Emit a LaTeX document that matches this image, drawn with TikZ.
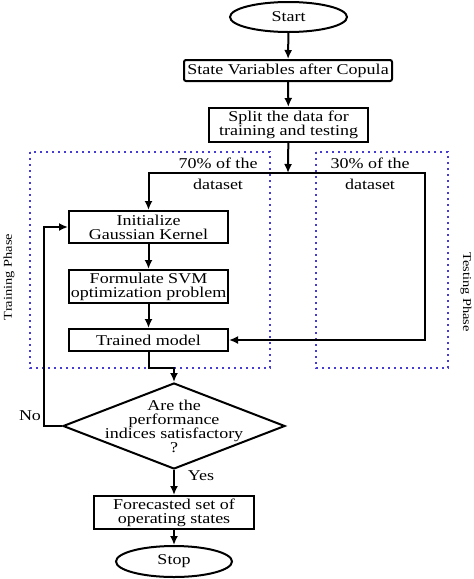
\documentclass[tikz,border=0pt]{standalone}
\usepackage{fontspec}
\setmainfont{Liberation Serif}[FakeStretch=1.2]
\usetikzlibrary{shapes.geometric, arrows.meta}

\definecolor{phaseblue}{RGB}{70,60,210}

\tikzset{
    box/.style={draw, line width=2pt, rectangle, inner sep=1pt, align=center, font=\fontsize{15}{14}\selectfont},
    oval/.style={draw, line width=2pt, ellipse, inner sep=0pt, font=\fontsize{15}{14}\selectfont},
    phase/.style={draw=phaseblue, line width=2pt, dash pattern=on 2pt off 4pt},
    txt/.style={font=\fontsize{15}{14}\selectfont},
    flow/.style={line width=2pt, -{Latex[length=9pt, width=8pt]}}
}

\begin{document}
\begin{tikzpicture}[x=1pt, y=-1pt]
    \useasboundingbox (0,0) rectangle (474,579);

    % Phases
    \draw[phase] (30,152) rectangle (270,368);
    \draw[phase] (316,152) rectangle (448,368);
    \node[rotate=90, font=\fontsize{12}{12}\selectfont] (trainlbl) at (9,277) {Training Phase};
    \node[rotate=-90, font=\fontsize{12}{12}\selectfont] (testlbl) at (466,292) {Testing Phase};

    % Nodes
    \node[oval, minimum width=117pt, minimum height=30pt] (start) at (288.5,17) {Start};
    \node[box, rounded corners=2pt, minimum width=208pt, minimum height=21pt] (state) at (288,70.5) {State Variables after Copula};
    \node[box, minimum width=159pt, minimum height=34pt] (split) at (288.5,125) {Split the data for\\training and testing};
    \node[box, minimum width=159pt, minimum height=32pt] (init) at (148.5,227) {Initialize\\Gaussian Kernel};
    \node[box, minimum width=159pt, minimum height=33pt] (svm) at (148.5,286.5) {Formulate SVM\\optimization problem};
    \node[box, minimum width=159pt, minimum height=22pt] (trained) at (148.5,340) {Trained model};
    \node[draw, line width=2pt, diamond, aspect=2.58, inner xsep=0pt, inner ysep=-12pt,
          minimum width=222pt, minimum height=86pt, align=center, txt] (perf) at (174,426)
          {Are the\\performance\\indices satisfactory\\?};
    \node[box, minimum width=160pt, minimum height=33pt] (fore) at (174,512.5) {Forecasted set of\\operating states};
    \node[oval, minimum width=116pt, minimum height=31pt] (stop) at (174,561.5) {Stop};

    % Split labels
    \node[txt] (seventy) at (218,163) {70\% of the};
    \node[txt] (seventyb) at (218,184) {dataset};
    \node[txt] (thirty) at (370,163) {30\% of the};
    \node[txt] (thirtyb) at (370,184) {dataset};

    \coordinate (fork) at (288,173);
    \coordinate (right) at (425,173);
    \coordinate (bend) at (174,368);

    % Connectors
    \draw[flow] (start) -- (state);
    \draw[flow] (state) -- (split);
    \draw[flow] (split) -- (fork);
    \draw[flow] (fork) -| (init.north);
    \draw[flow] (fork) -- (right) |- (trained.east);
    \draw[flow] (init) -- (svm);
    \draw[flow] (svm) -- (trained);
    \draw[flow] (trained.south) |- (bend) -- (perf.north);
    \draw[flow] (perf.west) -- ++(-18,0) |- (init.west);
    \draw[flow] (perf.south) -- (fore);
    \draw[flow] (fore) -- (stop);

    \node[txt] (no) at (30,416) {No};
    \node[txt] (yes) at (201,476) {Yes};
\end{tikzpicture}
\end{document}
